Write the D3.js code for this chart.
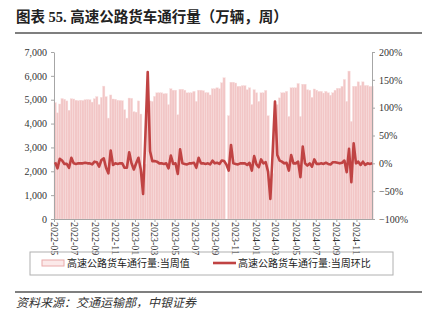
<!DOCTYPE html>
<html>
<head>
<meta charset="utf-8">
<script src="https://cdn.jsdelivr.net/npm/d3@7"></script>
<style>
  body { margin: 0; background: #fff; }
  text { font-family: "Liberation Serif", "Times New Roman", "Noto Sans CJK SC", serif; }
</style>
</head>
<body>
<script>
// weekly truck traffic on expressways (10k vehicles), first week starts 2022-05-01
const firstWeek = new Date(2022, 4, 1);
const weeklyValue = [
  4880, 4450, 4820, 5050, 5020, 4950, 4560, 5040, 5030, 4980,
  4960, 4980, 4970, 5000, 5010, 5000, 4900, 5040, 5130, 4800,
  5100, 5570, 5130, 4230, 5200, 5030, 5020, 4980, 4970, 4960,
  4580, 4230, 5070, 5060, 4500, 4480, 4950, 4400, 1980, 2300,
  4900, 4950, 4930, 5140, 5290, 5290, 5290, 5250, 5260, 4795,
  5460, 5400, 5400, 4370, 5440, 5440, 5400, 5290, 5290, 5290,
  5350, 4930, 5400, 5400, 5380, 5300, 5300, 5200, 5460, 5460,
  5500, 5460, 5710, 5920, null, 4330, 5735, 5735, 5700, 5565,
  5565, 5590, 5590, 5420, 5500, 4800, 5420, 5290, 4930, 5290,
  5290, 5390, 4330, 1560, 1900, 4000, 4795, 5077, 5290, 5290,
  5350, 4300, 5500, 5500, 5500, 5680, 4300, 5650, 5650, 5420,
  5400, 5100, 5450, 5400, 5350, 5350, 5280, 5350, 5290, 5190,
  5290, 5400, 5480, 5480, 5560, 5850, 4930, 6200, 4090, 5566,
  5566, 5750, 5600, 5750, 5600, 5600, 5560, 5560
];
// week-on-week change, %
const weeklyChange = [
  2, -9, 8, 5, -1, -1, -8, 10, 0, -1,
  0, 0, 0, 1, 0, 0, -2, 3, 2, -6,
  6, 9, -8, -18, 23, -3, 0, -1, 0, 0,
  -8, -8, 20, 0, -11, 0, 10, -11, -55, 50,
  164, 22, 4, 4, 3, 0, 0, -1, 0, -9,
  14, -1, 0, -19, 25, 0, -1, -2, 0, 0,
  1, -8, 10, 0, 0, -1, 0, -2, 5, 0,
  1, -1, 5, 4, -2, -13, 33, 0, -1, -2,
  0, 0, 0, -3, 1, -13, 13, -2, -7, 7,
  0, 2, -15, -64, 20, 111, 15, 5, 3, 0,
  1, -13, 15, 0, 0, 3, -25, 30, 0, -4,
  0, -6, 7, -1, -1, 0, -1, 1, -1, -2,
  2, 2, 1, 0, 1, 5, -16, 26, -34, 36,
  0, 3, -3, 3, -3, 0, -1, 0
];
const leftTicks = [0, 1000, 2000, 3000, 4000, 5000, 6000, 7000];
const rightTicks = [-1, -0.5, 0, 0.5, 1, 1.5, 2];
const seriesNames = ["高速公路货车通行量:当周值", "高速公路货车通行量:当周环比"];

const W = 427, H = 325;
const plot = { left: 54, right: 372, top: 52, bottom: 219 };
const barColor = "#f2c6c6", lineColor = "#c04343", axisColor = "#a6a6a6";

const data = weeklyValue.map((v, i) => ({
  date: d3.timeDay.offset(firstWeek, 7 * i),
  value: v,
  change: weeklyChange[i] / 100
}));

const svg = d3.select("body").append("svg")
  .attr("width", W)
  .attr("height", H);

// scales
const x = d3.scaleTime()
  .domain([firstWeek, new Date(2024, 11, 18)])
  .range([plot.left, plot.right]);
const yL = d3.scaleLinear().domain([0, 7000]).range([plot.bottom, plot.top]);
const yR = d3.scaleLinear().domain([-1, 2]).range([plot.bottom, plot.top]);
const bw = x(d3.timeDay.offset(firstWeek, 7)) - x(firstWeek);

// title
svg.append("text")
  .attr("x", 16).attr("y", 22)
  .attr("font-size", 14.5).attr("font-weight", 600).attr("fill", "#222")
  .text("图表 55. 高速公路货车通行量（万辆，周）");
svg.append("line")
  .attr("x1", 15).attr("x2", 422).attr("y1", 33).attr("y2", 33)
  .attr("stroke", "#555").attr("stroke-width", 1.3);

// bars
svg.append("g").selectAll("rect")
  .data(data.filter(d => d.value != null))
  .join("rect")
  .attr("x", d => x(d.date))
  .attr("width", bw)
  .attr("y", d => yL(d.value))
  .attr("height", d => yL(0) - yL(d.value))
  .attr("fill", barColor)
  .attr("stroke", "#f8dede")
  .attr("stroke-width", 0.4);

// axes
const styleAxis = g => {
  g.select(".domain").attr("stroke", axisColor);
  g.selectAll(".tick line").attr("stroke", axisColor);
  g.selectAll(".tick text").attr("fill", "#333").attr("font-size", 10)
    .style("font-family", '"Liberation Serif", "Times New Roman", serif');
};

svg.append("g")
  .attr("transform", `translate(${plot.left},0)`)
  .call(d3.axisLeft(yL).tickValues(leftTicks).tickFormat(d3.format(",")).tickSize(3).tickSizeOuter(0).tickPadding(4))
  .call(styleAxis);

svg.append("g")
  .attr("transform", `translate(${plot.right},0)`)
  .call(d3.axisRight(yR).tickValues(rightTicks).tickFormat(d3.format(".0%")).tickSize(3).tickSizeOuter(0).tickPadding(4))
  .call(styleAxis);

const xAxis = svg.append("g")
  .attr("transform", `translate(0,${plot.bottom})`)
  .call(d3.axisBottom(x).ticks(d3.timeMonth.every(2)).tickFormat(d3.timeFormat("%Y-%m")).tickSize(3).tickSizeOuter(0))
  .call(styleAxis);
xAxis.selectAll(".tick text")
  .attr("transform", "rotate(90)")
  .attr("x", 3).attr("y", 0).attr("dy", "0.35em")
  .attr("text-anchor", "start");

// line
svg.append("path")
  .datum(data)
  .attr("fill", "none")
  .attr("stroke", lineColor)
  .attr("stroke-width", 2.6)
  .attr("stroke-linejoin", "round")
  .attr("d", d3.line().x(d => x(d.date) + bw / 2).y(d => yR(d.change)));

// legend
const legend = svg.append("g");
legend.append("rect")
  .attr("x", 30).attr("y", 252).attr("width", 363).attr("height", 23)
  .attr("fill", "none").attr("stroke", "#b0b0b0");
legend.append("rect")
  .attr("x", 42).attr("y", 260).attr("width", 22).attr("height", 6)
  .attr("fill", "#fbe9e9").attr("stroke", "#eaaaaa");
legend.append("text")
  .attr("x", 67).attr("y", 267).attr("font-size", 10).attr("fill", "#222")
  .text(seriesNames[0]);
legend.append("line")
  .attr("x1", 213).attr("x2", 236).attr("y1", 263).attr("y2", 263)
  .attr("stroke", lineColor).attr("stroke-width", 2.6);
legend.append("text")
  .attr("x", 238).attr("y", 267).attr("font-size", 10).attr("fill", "#222")
  .text(seriesNames[1]);

// source
svg.append("line")
  .attr("x1", 15).attr("x2", 422).attr("y1", 292).attr("y2", 292)
  .attr("stroke", "#555").attr("stroke-width", 1.3);
svg.append("text")
  .attr("x", 16).attr("y", 307)
  .attr("font-size", 12).attr("font-style", "italic").attr("fill", "#333")
  .text("资料来源：交通运输部，中银证券");
</script>
</body>
</html>
